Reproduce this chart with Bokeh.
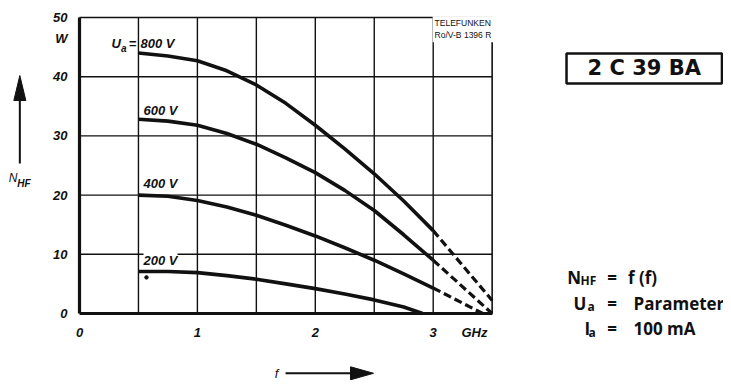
from bokeh.plotting import figure
from bokeh.models import Range1d, FixedTicker, Label
from bokeh.embed import file_html
from bokeh.resources import INLINE

# ---- data ----
freq = [0.5, 0.75, 1.0, 1.25, 1.5, 1.75, 2.0, 2.25, 2.5, 2.75, 3.0]
p800 = [44.0, 43.5, 42.7, 41.0, 38.6, 35.5, 31.8, 27.8, 23.6, 19.0, 14.0]
p600 = [32.8, 32.5, 31.8, 30.4, 28.6, 26.3, 23.8, 20.8, 17.4, 13.3, 9.0]
p400 = [20.0, 19.8, 19.1, 18.0, 16.6, 14.9, 13.1, 11.1, 9.0, 6.7, 4.3]
freq200 = [0.5, 0.75, 1.0, 1.25, 1.5, 1.75, 2.0, 2.25, 2.5, 2.75, 2.91]
p200 = [7.1, 7.1, 6.9, 6.4, 5.8, 5.0, 4.2, 3.3, 2.3, 1.1, 0.0]
# dashed extrapolations (from 3 GHz on)
ext_x = {"800": [3.0, 3.5], "600": [3.0, 3.5], "400": [3.0, 3.42]}
ext_y = {"800": [14.0, 2.2], "600": [9.0, 0.0], "400": [4.3, 0.0]}
curve_labels = ["800 V", "600 V", "400 V", "200 V"]
x_ticks = [0, 1, 2, 3]
y_ticks = [0, 10, 20, 30, 40, 50]
x_grid = [0.5, 1.0, 1.5, 2.0, 2.5, 3.0]
y_grid = [10, 20, 30, 40]
X_MAX, Y_MAX = 3.5, 50

BLACK = "#111111"
TICK_FONT = "Liberation Sans"
PANEL_FONT = "Open Sans"
TITLE_FONT = "DejaVu Sans"

# canvas geometry: the plotting frame covers the whole canvas, the chart's
# own axes are pinned at x=0 / y=0 with fixed_location
W, H = 723, 380
PX_X, PX_Y = 117.9, 5.92          # pixels per GHz / per W
ORG_X, ORG_Y = 79, 313            # pixel position of the origin
x0 = -ORG_X / PX_X
y1 = Y_MAX + (ORG_Y - Y_MAX * PX_Y) / PX_Y
p = figure(width=W, height=H, output_backend="svg", toolbar_location=None,
           x_range=Range1d(x0, x0 + W / PX_X),
           y_range=Range1d(y1 - H / PX_Y, y1),
           min_border=0, min_border_left=0, min_border_right=0,
           min_border_top=0, min_border_bottom=0)
p.background_fill_color = "white"
p.border_fill_color = "white"
p.outline_line_color = None
p.grid.visible = False

# grid lines and thin top/right border
p.segment(x0=x_grid, y0=[0] * len(x_grid), x1=x_grid, y1=[Y_MAX] * len(x_grid),
          line_color=BLACK, line_width=1.4)
p.segment(x0=[0] * len(y_grid), y0=y_grid, x1=[X_MAX] * len(y_grid), y1=y_grid,
          line_color=BLACK, line_width=1.4)
p.segment(x0=[0, X_MAX], y0=[Y_MAX, 0], x1=[X_MAX, X_MAX], y1=[Y_MAX, Y_MAX],
          line_color=BLACK, line_width=1.6)

# axes
p.xaxis.ticker = FixedTicker(ticks=x_ticks + [3.35])
p.xaxis.major_label_overrides = {3.35: "GHz"}
p.yaxis.ticker = FixedTicker(ticks=y_ticks + [46.5])
p.yaxis.major_label_overrides = {46.5: "W"}
p.xaxis.fixed_location = 0
p.yaxis.fixed_location = 0
p.xaxis.bounds = (0, X_MAX)
p.yaxis.bounds = (0, Y_MAX)
for ax in (p.xaxis[0], p.yaxis[0]):
    ax.axis_line_width = 3.2
    ax.axis_line_color = BLACK
    ax.major_tick_line_color = None
    ax.minor_tick_line_color = None
    ax.major_label_text_font = TICK_FONT
    ax.major_label_text_font_style = "bold italic"
    ax.major_label_text_font_size = "13px"
    ax.major_label_text_color = BLACK
p.xaxis.major_label_standoff = 5
p.yaxis.major_label_standoff = 6

# curves
for ys, xs in ((p800, freq), (p600, freq), (p400, freq), (p200, freq200)):
    p.line(xs, ys, line_width=3.6, line_color=BLACK, line_join="round")
for k in ("800", "600", "400"):
    p.line(ext_x[k], ext_y[k], line_width=3.2, line_color=BLACK, line_dash="8 4")
p.scatter([0.568], [6.1], size=3.5, color=BLACK)


def lab(x, y, t, size="12px", font=TICK_FONT, style="bold italic", align="left",
        baseline="middle", bg=None):
    l = Label(x=x, y=y, text=t, text_font=font, text_font_style=style,
              text_font_size=size, text_align=align, text_baseline=baseline,
              text_color=BLACK)
    if bg:
        l.background_fill_color = bg
    p.add_layout(l)
    return l


# curve annotations
lab(0.271, 45.6, "U", size="13px")
lab(0.352, 44.8, "a", size="10px")
lab(0.418, 45.6, "=", size="13px")
lab(0.517, 45.6, curve_labels[0], size="13px")
lab(0.543, 34.3, curve_labels[1], size="13px")
lab(0.543, 22.0, curve_labels[2], size="13px")
lab(0.543, 9.0, curve_labels[3], size="13px", bg="white")

# Telefunken mark
tf = lab(2.995, 48.0, "TELEFUNKEN\nRo/V-B 1396 R", size="8.5px", style="normal",
         align="left", bg="white")
tf.padding = 2


def arrow(xt, yt, dx, dy, length_px, head_px, width_px):
    """Arrow ending at (xt, yt); (dx, dy) = unit direction in pixels."""
    sx, sy = 1 / PX_X, 1 / PX_Y
    xb = xt - dx * head_px * sx
    yb = yt - dy * head_px * sy
    xs = xt - dx * length_px * sx
    ys = yt - dy * length_px * sy
    p.line([xs, xb], [ys, yb], line_color=BLACK, line_width=2)
    nx, ny = -dy, dx
    p.patch([xt, xb + nx * width_px / 2 * sx, xb - nx * width_px / 2 * sx],
            [yt, yb + ny * width_px / 2 * sy, yb - ny * width_px / 2 * sy],
            color=BLACK)


# y-label with arrow
lab(-0.600, 22.9, "N", size="12px", style="italic")
lab(-0.528, 22.0, "HF", size="10px", style="bold italic")
arrow(-0.506, 40.2, 0, 1, 88, 25, 12)
# x-label with arrow
lab(1.671, -10.1, "f", size="13px", style="italic", align="center")
arrow(2.494, -10.1, 1, 0, 88, 23, 13)

# title box
tb = lab(4.79, 41.4, "2 C 39 BA", size="21px", font=TITLE_FONT, style="bold",
         align="center")
tb.border_line_color = BLACK
tb.border_line_width = 2.5
tb.padding = (21, 3)

# parameter block
rows_y = [6.1, 1.7, -2.6]
lab(4.136, rows_y[0], "N", size="17px", font=PANEL_FONT, style="bold")
lab(4.250, rows_y[0] - 0.5, "HF", size="12px", font=PANEL_FONT, style="bold")
lab(4.190, rows_y[1], "U", size="17px", font=PANEL_FONT, style="bold")
lab(4.309, rows_y[1] - 0.6, "a", size="12px", font=PANEL_FONT, style="bold")
lab(4.283, rows_y[2], "I", size="17px", font=PANEL_FONT, style="bold")
lab(4.317, rows_y[2] - 0.6, "a", size="12px", font=PANEL_FONT, style="bold")
for y in rows_y:
    lab(4.518, y, "=", size="17px", font=PANEL_FONT, style="bold", align="center")
lab(4.652, rows_y[0], "f (f)", size="17px", font=PANEL_FONT, style="bold")
lab(4.699, rows_y[1], "Parameter", size="17px", font=PANEL_FONT, style="bold")
lab(4.699, rows_y[2], "100 mA", size="17px", font=PANEL_FONT, style="bold")

open("out.html", "w").write(file_html(p, INLINE))
